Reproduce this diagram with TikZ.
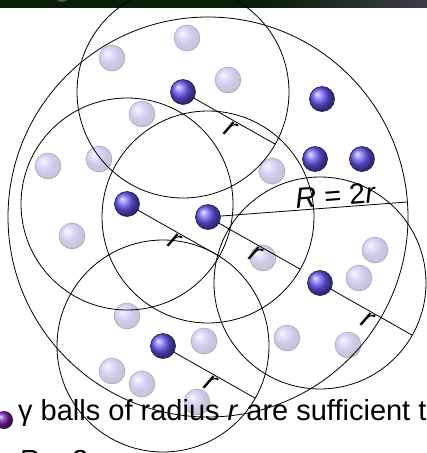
\documentclass[tikz,border=0pt]{standalone}
\usepackage{fontspec}
\setmainfont{Liberation Sans}
\usetikzlibrary{calc}
\definecolor{ballblue}{RGB}{104,88,245}
\definecolor{barcol}{RGB}{8,30,6}
\definecolor{bargrey}{RGB}{60,60,72}
\definecolor{bulletcol}{RGB}{112,30,170}
\definecolor{topball}{RGB}{200,150,230}
\begin{document}
\begin{tikzpicture}[x=1pt,y=-1pt,
  ring/.style={draw=black, line width=0.8pt},
  rad/.style={draw=black, line width=0.8pt},
  darkball/.style={circle, inner sep=0pt, minimum size=25pt, ball color=ballblue, draw=ballblue!30!black, line width=0.6pt},
  lightball/.style={circle, inner sep=0pt, minimum size=26pt, ball color=ballblue, draw=ballblue!30!black, line width=0.6pt, opacity=0.27},
  lbl/.style={font=\fontsize{29}{30}\selectfont\itshape, inner sep=1pt},
  body/.style={font=\fontsize{29}{34}\selectfont, inner sep=0pt, anchor=base west}
]
\useasboundingbox (0,0) rectangle (427,453);
\clip (0,0) rectangle (427,453);
% top bar
\fill[barcol] (0,0) rectangle (260,7.5);
\shade[left color=barcol, right color=bargrey] (259.5,0) rectangle (427,7.5);
\node[circle, inner sep=0pt, minimum size=16pt, ball color=topball] (tb) at (62,-6) {};
% light balls
\foreach \p [count=\i] in {(187,38),(112,58),(228,80),(142,114),(48,166),(99,159),(72,236),(272,171),(263,258),(375,250),(359,278),(127,316),(204,341),(287,338),(348,345),(112,371),(142,384),(197,402)}
  \node[lightball] (l\i) at \p {};
% dark balls
\node[darkball] (d1) at (183,92) {};
\node[darkball] (d2) at (127,204) {};
\node[darkball] (d3) at (208,217) {};
\node[darkball] (d4) at (320,283) {};
\node[darkball] (d5) at (163,346) {};
\node[darkball] (d6) at (322,99) {};
\node[darkball] (d7) at (315,159) {};
\node[darkball] (d8) at (362,159) {};
% bottom text
\node[circle, inner sep=0pt, minimum size=18pt, ball color=bulletcol] (bul) at (4,420) {};
\node[body] (t1) at (18,420) {γ balls of radius \textit{r} are sufficient to cover};
\node[body] (t2) at (18,470) {\textit{R} = 2\textit{r}};
% radius end points
\coordinate (e1) at ($(d1.center)+(29.5:106)$);
\coordinate (e2) at ($(d2.center)+(29.5:106)$);
\coordinate (e3) at ($(d3.center)+(29.5:106)$);
\coordinate (e4) at ($(d4.center)+(29.5:106)$);
\coordinate (e5) at ($(d5.center)+(29.5:106)$);
\coordinate (eR) at ($(d3.center)+(-4.3:200)$);
% radius lines
\foreach \i in {1,...,5}
  \draw[rad] (d\i) -- (e\i) node[lbl, midway, below, sloped] {r};
\draw[rad] (d3) -- (eR) node[lbl, pos=0.62, above, sloped, font=\fontsize{29}{30}\selectfont] {\textit{R} = 2\textit{r}};
% circles
\draw[ring] (d3.center) circle[radius=200];
\foreach \i in {1,...,5}
  \draw[ring] (d\i.center) circle[radius=106];
\end{tikzpicture}
\end{document}
